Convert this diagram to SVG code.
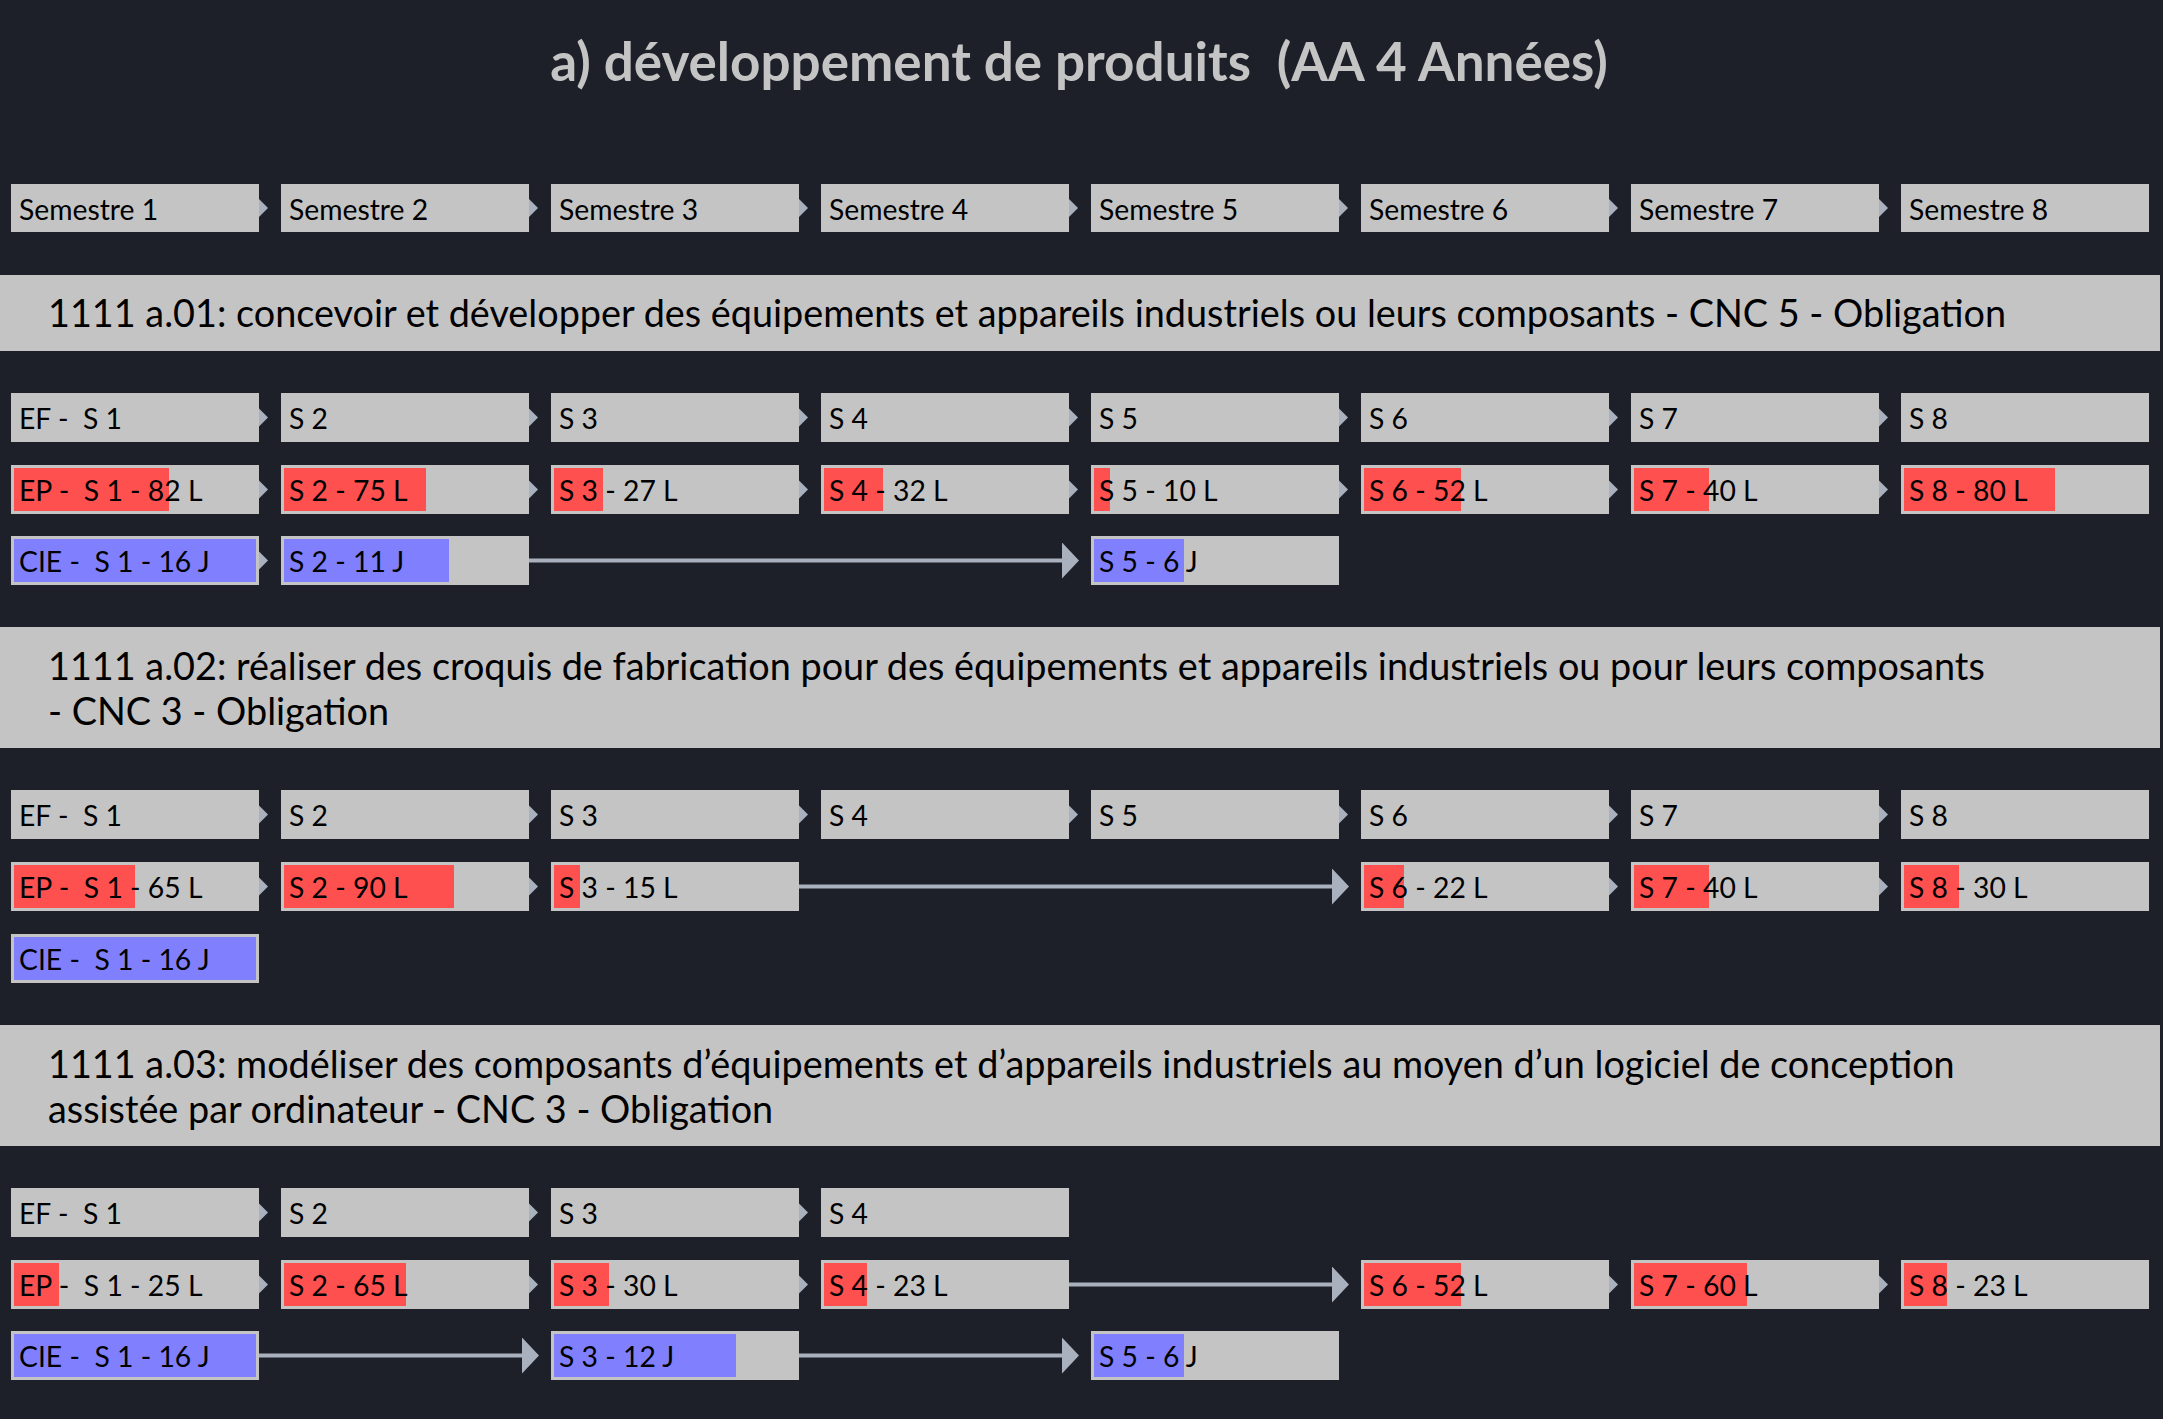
<svg xmlns="http://www.w3.org/2000/svg" xmlns:xlink="http://www.w3.org/1999/xlink" width="2163" height="1419" viewBox="0 0 2163 1419">
<style>
.bg{fill:#1e2029}
.box{fill:#c4c4c4}
.red{fill:#ff5050}
.blue{fill:#8080ff}
.t{font-family:Lato,"Liberation Sans",sans-serif;font-size:28.3px;fill:#000;white-space:pre}
.h{font-family:Lato,"Liberation Sans",sans-serif;font-size:37.8px;fill:#000;white-space:pre}
.title{font-family:Lato,"Liberation Sans",sans-serif;font-size:53px;font-weight:bold;fill:#c4c4c4;white-space:pre}
.ln{stroke:#a9b0be;stroke-width:4;fill:none}
.tri{fill:#a9b0be}
</style>
<defs>
<path id="tri" d="M0,-9 L9,0 L0,9 Z"/>
<marker id="ah" markerUnits="userSpaceOnUse" markerWidth="18" markerHeight="36" refX="0" refY="18" orient="auto" viewBox="0 0 18 36">
<path d="M0,0 L17,18 L0,36 Z" fill="#a9b0be"/>
</marker>
</defs>
<rect class="bg" x="0" y="0" width="2163" height="1419"/>
<text class="title" x="1079" y="81" text-anchor="middle">a) développement de produits  (AA 4 Années)</text>

<g id="semestres">
<g id="sem1"><rect class="box" x="11" y="184" width="248" height="48"/><text class="t" x="19" y="220">Semestre 1</text></g>
<g id="sem2"><rect class="box" x="281" y="184" width="248" height="48"/><text class="t" x="289" y="220">Semestre 2</text></g>
<g id="sem3"><rect class="box" x="551" y="184" width="248" height="48"/><text class="t" x="559" y="220">Semestre 3</text></g>
<g id="sem4"><rect class="box" x="821" y="184" width="248" height="48"/><text class="t" x="829" y="220">Semestre 4</text></g>
<g id="sem5"><rect class="box" x="1091" y="184" width="248" height="48"/><text class="t" x="1099" y="220">Semestre 5</text></g>
<g id="sem6"><rect class="box" x="1361" y="184" width="248" height="48"/><text class="t" x="1369" y="220">Semestre 6</text></g>
<g id="sem7"><rect class="box" x="1631" y="184" width="248" height="48"/><text class="t" x="1639" y="220">Semestre 7</text></g>
<g id="sem8"><rect class="box" x="1901" y="184" width="248" height="48"/><text class="t" x="1909" y="220">Semestre 8</text></g>
</g>

<g id="h1"><rect class="box" x="0" y="275" width="2160" height="76"/><text class="h" x="48" y="327">1111 a.01: concevoir et développer des équipements et appareils industriels ou leurs composants - CNC 5 - Obligation</text></g>

<g id="s1-ef1"><rect class="box" x="11" y="393" width="248" height="49"/><text class="t" x="19" y="429">EF -  S 1</text></g>
<g id="s1-ef2"><rect class="box" x="281" y="393" width="248" height="49"/><text class="t" x="289" y="429">S 2</text></g>
<g id="s1-ef3"><rect class="box" x="551" y="393" width="248" height="49"/><text class="t" x="559" y="429">S 3</text></g>
<g id="s1-ef4"><rect class="box" x="821" y="393" width="248" height="49"/><text class="t" x="829" y="429">S 4</text></g>
<g id="s1-ef5"><rect class="box" x="1091" y="393" width="248" height="49"/><text class="t" x="1099" y="429">S 5</text></g>
<g id="s1-ef6"><rect class="box" x="1361" y="393" width="248" height="49"/><text class="t" x="1369" y="429">S 6</text></g>
<g id="s1-ef7"><rect class="box" x="1631" y="393" width="248" height="49"/><text class="t" x="1639" y="429">S 7</text></g>
<g id="s1-ef8"><rect class="box" x="1901" y="393" width="248" height="49"/><text class="t" x="1909" y="429">S 8</text></g>

<g id="s1-ep1"><rect class="box" x="11" y="465" width="248" height="49"/><rect class="red" x="14" y="468" width="155" height="43"/><text class="t" x="19" y="501">EP -  S 1 - 82 L</text></g>
<g id="s1-ep2"><rect class="box" x="281" y="465" width="248" height="49"/><rect class="red" x="284" y="468" width="142" height="43"/><text class="t" x="289" y="501">S 2 - 75 L</text></g>
<g id="s1-ep3"><rect class="box" x="551" y="465" width="248" height="49"/><rect class="red" x="554" y="468" width="49" height="43"/><text class="t" x="559" y="501">S 3 - 27 L</text></g>
<g id="s1-ep4"><rect class="box" x="821" y="465" width="248" height="49"/><rect class="red" x="824" y="468" width="59" height="43"/><text class="t" x="829" y="501">S 4 - 32 L</text></g>
<g id="s1-ep5"><rect class="box" x="1091" y="465" width="248" height="49"/><rect class="red" x="1094" y="468" width="16" height="43"/><text class="t" x="1099" y="501">S 5 - 10 L</text></g>
<g id="s1-ep6"><rect class="box" x="1361" y="465" width="248" height="49"/><rect class="red" x="1364" y="468" width="97" height="43"/><text class="t" x="1369" y="501">S 6 - 52 L</text></g>
<g id="s1-ep7"><rect class="box" x="1631" y="465" width="248" height="49"/><rect class="red" x="1634" y="468" width="75" height="43"/><text class="t" x="1639" y="501">S 7 - 40 L</text></g>
<g id="s1-ep8"><rect class="box" x="1901" y="465" width="248" height="49"/><rect class="red" x="1904" y="468" width="151" height="43"/><text class="t" x="1909" y="501">S 8 - 80 L</text></g>

<g id="s1-cie1"><rect class="box" x="11" y="536" width="248" height="49"/><rect class="blue" x="14" y="539" width="242" height="43"/><text class="t" x="19" y="572">CIE -  S 1 - 16 J</text></g>
<g id="s1-cie2"><rect class="box" x="281" y="536" width="248" height="49"/><rect class="blue" x="284" y="539" width="165" height="43"/><text class="t" x="289" y="572">S 2 - 11 J</text></g>
<g id="s1-cie5"><rect class="box" x="1091" y="536" width="248" height="49"/><rect class="blue" x="1094" y="539" width="90" height="43"/><text class="t" x="1099" y="572">S 5 - 6 J</text></g>

<g id="h2"><rect class="box" x="0" y="627" width="2160" height="121"/><text class="h" x="48" y="680">1111 a.02: réaliser des croquis de fabrication pour des équipements et appareils industriels ou pour leurs composants</text><text class="h" x="48" y="725">- CNC 3 - Obligation</text></g>

<g id="s2-ef1"><rect class="box" x="11" y="790" width="248" height="49"/><text class="t" x="19" y="826">EF -  S 1</text></g>
<g id="s2-ef2"><rect class="box" x="281" y="790" width="248" height="49"/><text class="t" x="289" y="826">S 2</text></g>
<g id="s2-ef3"><rect class="box" x="551" y="790" width="248" height="49"/><text class="t" x="559" y="826">S 3</text></g>
<g id="s2-ef4"><rect class="box" x="821" y="790" width="248" height="49"/><text class="t" x="829" y="826">S 4</text></g>
<g id="s2-ef5"><rect class="box" x="1091" y="790" width="248" height="49"/><text class="t" x="1099" y="826">S 5</text></g>
<g id="s2-ef6"><rect class="box" x="1361" y="790" width="248" height="49"/><text class="t" x="1369" y="826">S 6</text></g>
<g id="s2-ef7"><rect class="box" x="1631" y="790" width="248" height="49"/><text class="t" x="1639" y="826">S 7</text></g>
<g id="s2-ef8"><rect class="box" x="1901" y="790" width="248" height="49"/><text class="t" x="1909" y="826">S 8</text></g>

<g id="s2-ep1"><rect class="box" x="11" y="862" width="248" height="49"/><rect class="red" x="14" y="865" width="121" height="43"/><text class="t" x="19" y="898">EP -  S 1 - 65 L</text></g>
<g id="s2-ep2"><rect class="box" x="281" y="862" width="248" height="49"/><rect class="red" x="284" y="865" width="170" height="43"/><text class="t" x="289" y="898">S 2 - 90 L</text></g>
<g id="s2-ep3"><rect class="box" x="551" y="862" width="248" height="49"/><rect class="red" x="554" y="865" width="26" height="43"/><text class="t" x="559" y="898">S 3 - 15 L</text></g>
<g id="s2-ep6"><rect class="box" x="1361" y="862" width="248" height="49"/><rect class="red" x="1364" y="865" width="40" height="43"/><text class="t" x="1369" y="898">S 6 - 22 L</text></g>
<g id="s2-ep7"><rect class="box" x="1631" y="862" width="248" height="49"/><rect class="red" x="1634" y="865" width="75" height="43"/><text class="t" x="1639" y="898">S 7 - 40 L</text></g>
<g id="s2-ep8"><rect class="box" x="1901" y="862" width="248" height="49"/><rect class="red" x="1904" y="865" width="55" height="43"/><text class="t" x="1909" y="898">S 8 - 30 L</text></g>

<g id="s2-cie1"><rect class="box" x="11" y="934" width="248" height="49"/><rect class="blue" x="14" y="937" width="242" height="43"/><text class="t" x="19" y="970">CIE -  S 1 - 16 J</text></g>

<g id="h3"><rect class="box" x="0" y="1025" width="2160" height="121"/><text class="h" x="48" y="1078">1111 a.03: modéliser des composants d’équipements et d’appareils industriels au moyen d’un logiciel de conception</text><text class="h" x="48" y="1123">assistée par ordinateur - CNC 3 - Obligation</text></g>

<g id="s3-ef1"><rect class="box" x="11" y="1188" width="248" height="49"/><text class="t" x="19" y="1224">EF -  S 1</text></g>
<g id="s3-ef2"><rect class="box" x="281" y="1188" width="248" height="49"/><text class="t" x="289" y="1224">S 2</text></g>
<g id="s3-ef3"><rect class="box" x="551" y="1188" width="248" height="49"/><text class="t" x="559" y="1224">S 3</text></g>
<g id="s3-ef4"><rect class="box" x="821" y="1188" width="248" height="49"/><text class="t" x="829" y="1224">S 4</text></g>

<g id="s3-ep1"><rect class="box" x="11" y="1260" width="248" height="49"/><rect class="red" x="14" y="1263" width="45" height="43"/><text class="t" x="19" y="1296">EP -  S 1 - 25 L</text></g>
<g id="s3-ep2"><rect class="box" x="281" y="1260" width="248" height="49"/><rect class="red" x="284" y="1263" width="122" height="43"/><text class="t" x="289" y="1296">S 2 - 65 L</text></g>
<g id="s3-ep3"><rect class="box" x="551" y="1260" width="248" height="49"/><rect class="red" x="554" y="1263" width="55" height="43"/><text class="t" x="559" y="1296">S 3 - 30 L</text></g>
<g id="s3-ep4"><rect class="box" x="821" y="1260" width="248" height="49"/><rect class="red" x="824" y="1263" width="43" height="43"/><text class="t" x="829" y="1296">S 4 - 23 L</text></g>
<g id="s3-ep6"><rect class="box" x="1361" y="1260" width="248" height="49"/><rect class="red" x="1364" y="1263" width="97" height="43"/><text class="t" x="1369" y="1296">S 6 - 52 L</text></g>
<g id="s3-ep7"><rect class="box" x="1631" y="1260" width="248" height="49"/><rect class="red" x="1634" y="1263" width="113" height="43"/><text class="t" x="1639" y="1296">S 7 - 60 L</text></g>
<g id="s3-ep8"><rect class="box" x="1901" y="1260" width="248" height="49"/><rect class="red" x="1904" y="1263" width="43" height="43"/><text class="t" x="1909" y="1296">S 8 - 23 L</text></g>

<g id="s3-cie1"><rect class="box" x="11" y="1331" width="248" height="49"/><rect class="blue" x="14" y="1334" width="242" height="43"/><text class="t" x="19" y="1367">CIE -  S 1 - 16 J</text></g>
<g id="s3-cie3"><rect class="box" x="551" y="1331" width="248" height="49"/><rect class="blue" x="554" y="1334" width="182" height="43"/><text class="t" x="559" y="1367">S 3 - 12 J</text></g>
<g id="s3-cie5"><rect class="box" x="1091" y="1331" width="248" height="49"/><rect class="blue" x="1094" y="1334" width="90" height="43"/><text class="t" x="1099" y="1367">S 5 - 6 J</text></g>

<g id="connectors">
<g class="tri">
<use href="#tri" x="259" y="208"/><use href="#tri" x="529" y="208"/><use href="#tri" x="799" y="208"/><use href="#tri" x="1069" y="208"/><use href="#tri" x="1339" y="208"/><use href="#tri" x="1609" y="208"/><use href="#tri" x="1879" y="208"/>
<use href="#tri" x="259" y="417.5"/><use href="#tri" x="529" y="417.5"/><use href="#tri" x="799" y="417.5"/><use href="#tri" x="1069" y="417.5"/><use href="#tri" x="1339" y="417.5"/><use href="#tri" x="1609" y="417.5"/><use href="#tri" x="1879" y="417.5"/>
<use href="#tri" x="259" y="489.5"/><use href="#tri" x="529" y="489.5"/><use href="#tri" x="799" y="489.5"/><use href="#tri" x="1069" y="489.5"/><use href="#tri" x="1339" y="489.5"/><use href="#tri" x="1609" y="489.5"/><use href="#tri" x="1879" y="489.5"/>
<use href="#tri" x="259" y="560.5"/>
<use href="#tri" x="259" y="814.5"/><use href="#tri" x="529" y="814.5"/><use href="#tri" x="799" y="814.5"/><use href="#tri" x="1069" y="814.5"/><use href="#tri" x="1339" y="814.5"/><use href="#tri" x="1609" y="814.5"/><use href="#tri" x="1879" y="814.5"/>
<use href="#tri" x="259" y="886.5"/><use href="#tri" x="529" y="886.5"/><use href="#tri" x="1609" y="886.5"/><use href="#tri" x="1879" y="886.5"/>
<use href="#tri" x="259" y="1212.5"/><use href="#tri" x="529" y="1212.5"/><use href="#tri" x="799" y="1212.5"/>
<use href="#tri" x="259" y="1284.5"/><use href="#tri" x="529" y="1284.5"/><use href="#tri" x="799" y="1284.5"/><use href="#tri" x="1609" y="1284.5"/><use href="#tri" x="1879" y="1284.5"/>
</g>
<line class="ln" x1="529" y1="560.5" x2="1062" y2="560.5" marker-end="url(#ah)"/>
<line class="ln" x1="799" y1="886.5" x2="1332" y2="886.5" marker-end="url(#ah)"/>
<line class="ln" x1="1069" y1="1284.5" x2="1332" y2="1284.5" marker-end="url(#ah)"/>
<line class="ln" x1="259" y1="1355.5" x2="522" y2="1355.5" marker-end="url(#ah)"/>
<line class="ln" x1="799" y1="1355.5" x2="1062" y2="1355.5" marker-end="url(#ah)"/>
</g>
</svg>
